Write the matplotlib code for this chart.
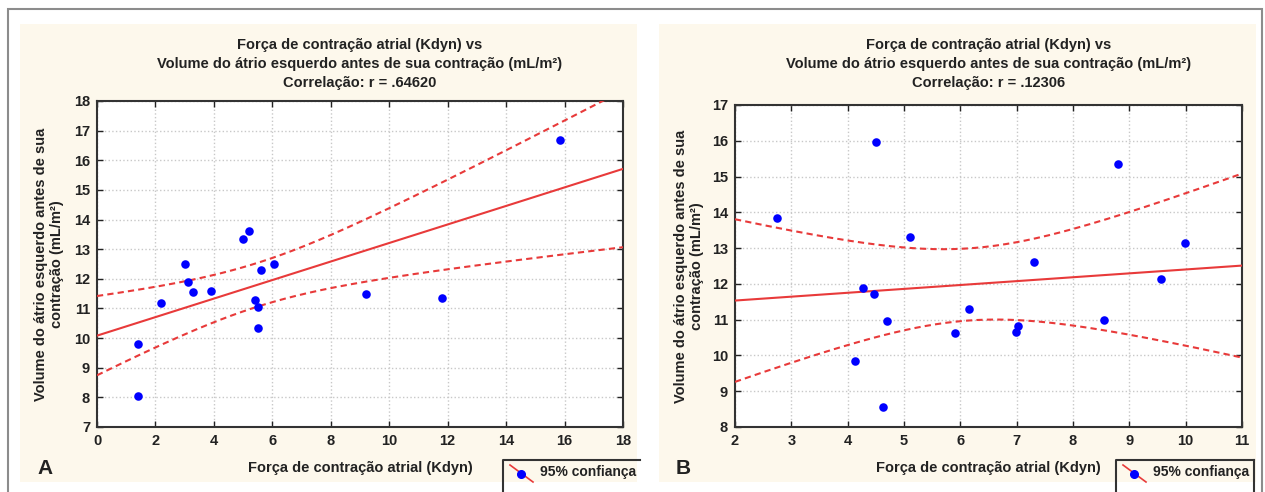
import numpy as np
import matplotlib
matplotlib.use('Agg')
import matplotlib.pyplot as plt
from matplotlib.lines import Line2D
from matplotlib.patches import Rectangle

plt.rcParams['font.family'] = ['Liberation Sans Narrow', 'Liberation Sans', 'DejaVu Sans']
plt.rcParams['font.weight'] = 'bold'

# painel A
xA = [1.4, 1.4, 2.2, 3.0, 3.1, 3.3, 3.9, 5.0, 5.2, 5.4, 5.5, 5.5, 5.6, 6.05, 9.2, 11.8, 15.85]
yA = [9.8, 8.05, 11.2, 12.5, 11.9, 11.55, 11.6, 13.35, 13.6, 11.3, 11.05, 10.35, 12.3, 12.5, 11.5, 11.35, 16.7]
rA = '.64620'

# painel B
xB = [2.75, 4.5, 5.1, 4.27, 4.47, 4.7, 4.13, 4.62, 5.9, 6.15, 6.98, 7.03, 7.3, 8.8, 8.55, 9.56, 9.98]
yB = [13.85, 15.97, 13.3, 11.88, 11.73, 10.97, 9.85, 8.57, 10.62, 11.3, 10.65, 10.83, 12.6, 15.35, 11.0, 12.15, 13.15]
rB = '.12306'

t95 = 2.131  # t(0.975, 15 gl)

W, H = 1265, 492
fig = plt.figure(figsize=(W / 100, H / 100), dpi=100)
fig.patch.set_facecolor('white')

def fx(px):
    return px / W

def fy(py):
    return 1 - py / H

creme = '#fdf8ec'
# moldura externa e fundos
fig.patches.append(Rectangle((fx(8), fy(500)), fx(1262) - fx(8), fy(9) - fy(500),
                             transform=fig.transFigure, fill=False, ec='#8c8c8c', lw=1.5, zorder=-2))
fig.patches.append(Rectangle((fx(20), fy(482)), fx(637) - fx(20), fy(24) - fy(482),
                             transform=fig.transFigure, fc=creme, ec='none', zorder=-1))
fig.patches.append(Rectangle((fx(659), fy(482)), fx(1256) - fx(659), fy(24) - fy(482),
                             transform=fig.transFigure, fc=creme, ec='none', zorder=-1))

vermelho = '#e83a3a'


def painel(box, x, y, r, xlim, ylim, xticks, yticks, letra, ylab_x, leg_x0, leg_x1):
    l, t, rr, b = box
    ax = fig.add_axes([fx(l), fy(b), fx(rr) - fx(l), fy(t) - fy(b)])
    ax.set_facecolor('white')
    x = np.array(x)
    y = np.array(y)
    n = len(x)
    m, c = np.polyfit(x, y, 1)
    xs = np.linspace(xlim[0], xlim[1], 200)
    ys = m * xs + c
    res = y - (m * x + c)
    s = np.sqrt(np.sum(res ** 2) / (n - 2))
    sxx = np.sum((x - x.mean()) ** 2)
    hw = t95 * s * np.sqrt(1.0 / n + (xs - x.mean()) ** 2 / sxx)
    ax.plot(xs, ys, color=vermelho, lw=1.5, zorder=3)
    ax.plot(xs, ys + hw, color=vermelho, lw=1.5, ls=(0, (3, 2)), zorder=3)
    ax.plot(xs, ys - hw, color=vermelho, lw=1.5, ls=(0, (3, 2)), zorder=3)
    ax.scatter(x, y, s=38, color='#0000ff', zorder=4, linewidths=0)
    ax.set_xlim(xlim)
    ax.set_ylim(ylim)
    ax.set_xticks(xticks)
    ax.set_yticks(yticks)
    ax.grid(True, color='#c8c8c8', ls=':', lw=1)
    ax.tick_params(direction='in', length=4, width=1, top=True, right=True,
                   labelsize=10.5, colors='#222222', pad=5)
    for sp in ax.spines.values():
        sp.set_color('#333333')
        sp.set_linewidth(1.5)
    cx = (l + rr) / 2
    fig.text(fx(cx), fy(64), 'Força de contração atrial (Kdyn) vs\n'
             'Volume do átrio esquerdo antes de sua contração (mL/m²)\n'
             'Correlação: r = ' + r, ha='center', va='center', fontsize=10.5,
             linespacing=1.45, color='#222222')
    fig.text(fx(cx), fy(468), 'Força de contração atrial (Kdyn)', ha='center', va='center',
             fontsize=10.5, color='#222222')
    fig.text(fx(ylab_x), fy((t + b) / 2), 'Volume do átrio esquerdo antes de sua\ncontração (mL/m²)',
             rotation=90, ha='center', va='center', fontsize=10.5, linespacing=1.25, color='#222222')
    fig.text(fx(l - 52), fy(468), letra, ha='center', va='center', fontsize=15, color='#222222')
    # legenda
    fig.lines.append(Line2D([fx(leg_x0), fx(leg_x0), fx(leg_x1)], [fy(492), fy(460), fy(460)],
                            transform=fig.transFigure, color='#333333', lw=1.5))
    fig.lines.append(Line2D([fx(leg_x0 + 7), fx(leg_x0 + 30)], [fy(465), fy(482)],
                            transform=fig.transFigure, color=vermelho, lw=1.2))
    fig.lines.append(Line2D([fx(leg_x0 + 18)], [fy(473.5)], transform=fig.transFigure,
                            marker='o', ms=5.5, color='#0000ff', ls='none'))
    fig.text(fx(leg_x0 + 37), fy(472), '95% confiança', ha='left', va='center',
             fontsize=10, color='#222222')
    return ax


painel((97, 101, 623, 427), xA, yA, rA, (0, 18), (7, 18), range(0, 19, 2), range(7, 19),
       'A', 49, 503, 640)
axB = painel((735, 105, 1242, 427), xB, yB, rB, (2, 11), (8, 17), range(2, 12), range(8, 18),
             'B', 689, 1116, 1254)
fig.lines.append(Line2D([fx(1254), fx(1254)], [fy(460), fy(492)], transform=fig.transFigure,
                        color='#333333', lw=1.5))

fig.savefig('out.png', dpi=100, facecolor='white')
